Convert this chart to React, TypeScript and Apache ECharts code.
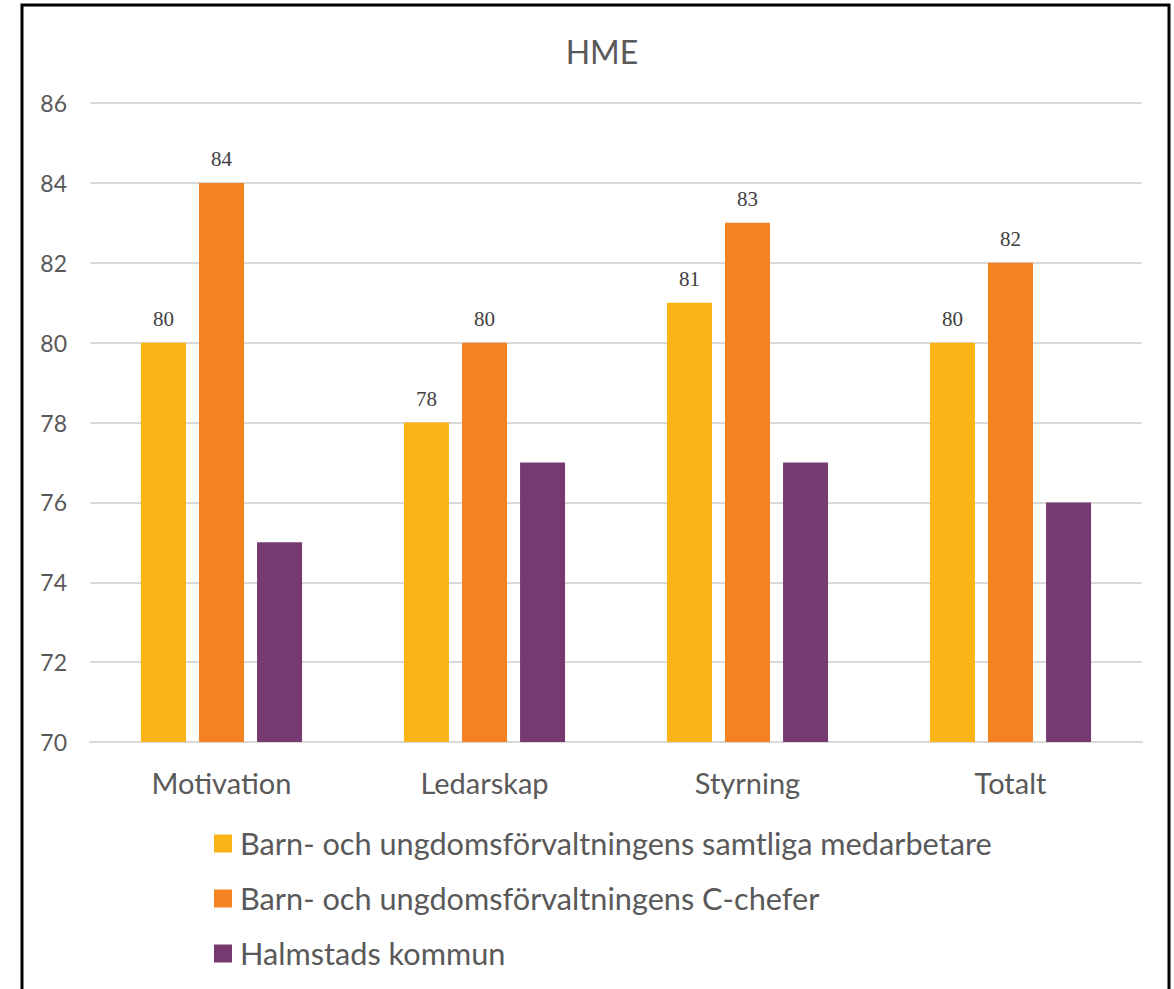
import React, { useEffect, useRef } from "react";
import * as echarts from "echarts";

const categories = ["Motivation", "Ledarskap", "Styrning", "Totalt"];
const seriesNames = [
  "Barn- och ungdomsförvaltningens samtliga medarbetare",
  "Barn- och ungdomsförvaltningens C-chefer",
  "Halmstads kommun",
];
const samtliga = [80, 78, 81, 80];
const cChefer = [84, 80, 83, 82];
const halmstad = [75, 77, 77, 76];
const colors = ["#FBB416", "#F58220", "#763A70"];
const showLabels = [true, true, false];

export default function App() {
  const ref = useRef<HTMLDivElement>(null);
  useEffect(() => {
    if (!ref.current) return;
    const chart = echarts.init(ref.current, undefined, { renderer: "svg" });
    const font = "Lato, 'Open Sans', sans-serif";
    const values = [samtliga, cChefer, halmstad];
    chart.setOption({
      animation: false,
      backgroundColor: "#ffffff",
      title: {
        text: "HME",
        left: 597,
        textAlign: "center",
        top: 30,
        textStyle: { fontFamily: font, fontSize: 32, fontWeight: "normal", color: "#595959" },
      },
      graphic: [
        {
          type: "rect",
          shape: { x: 22, y: 5, width: 1147, height: 1000 },
          style: { fill: "none", stroke: "#000", lineWidth: 3 },
          silent: true,
        },
      ],
      legend: {
        orient: "vertical",
        left: 209,
        top: 823,
        itemWidth: 18,
        itemHeight: 18,
        itemGap: 24,
        icon: "rect",
        textStyle: { fontFamily: font, fontSize: 30.7, color: "#595959", padding: [0, 0, 0, 3] },
        data: seriesNames,
      },
      grid: { left: 90, right: 32, top: 103, bottom: 247 },
      xAxis: {
        type: "category",
        data: categories,
        axisLine: { lineStyle: { color: "#d9d9d9", width: 2 } },
        axisTick: { show: false },
        axisLabel: { fontFamily: font, fontSize: 29, color: "#595959", margin: 26 },
      },
      yAxis: {
        type: "value",
        min: 70,
        max: 86,
        interval: 2,
        axisLine: { show: false },
        axisTick: { show: false },
        splitLine: { lineStyle: { color: "#d9d9d9", width: 2 } },
        axisLabel: { fontFamily: font, fontSize: 23, color: "#595959", margin: 23 },
      },
      series: seriesNames.map((name, i) => ({
        name,
        type: "bar",
        data: values[i],
        barWidth: 45,
        barGap: "29%",
        itemStyle: { color: colors[i] },
        label: {
          show: showLabels[i],
          position: "top",
          distance: 13,
          fontFamily: "'Liberation Serif', 'DejaVu Serif', serif",
          fontSize: 21,
          color: "#404040",
        },
      })),
    });
    return () => chart.dispose();
  }, []);
  return (
    <div
      ref={ref}
      style={{ position: "fixed", left: 0, top: 0, width: 1174, height: 989 }}
    />
  );
}
